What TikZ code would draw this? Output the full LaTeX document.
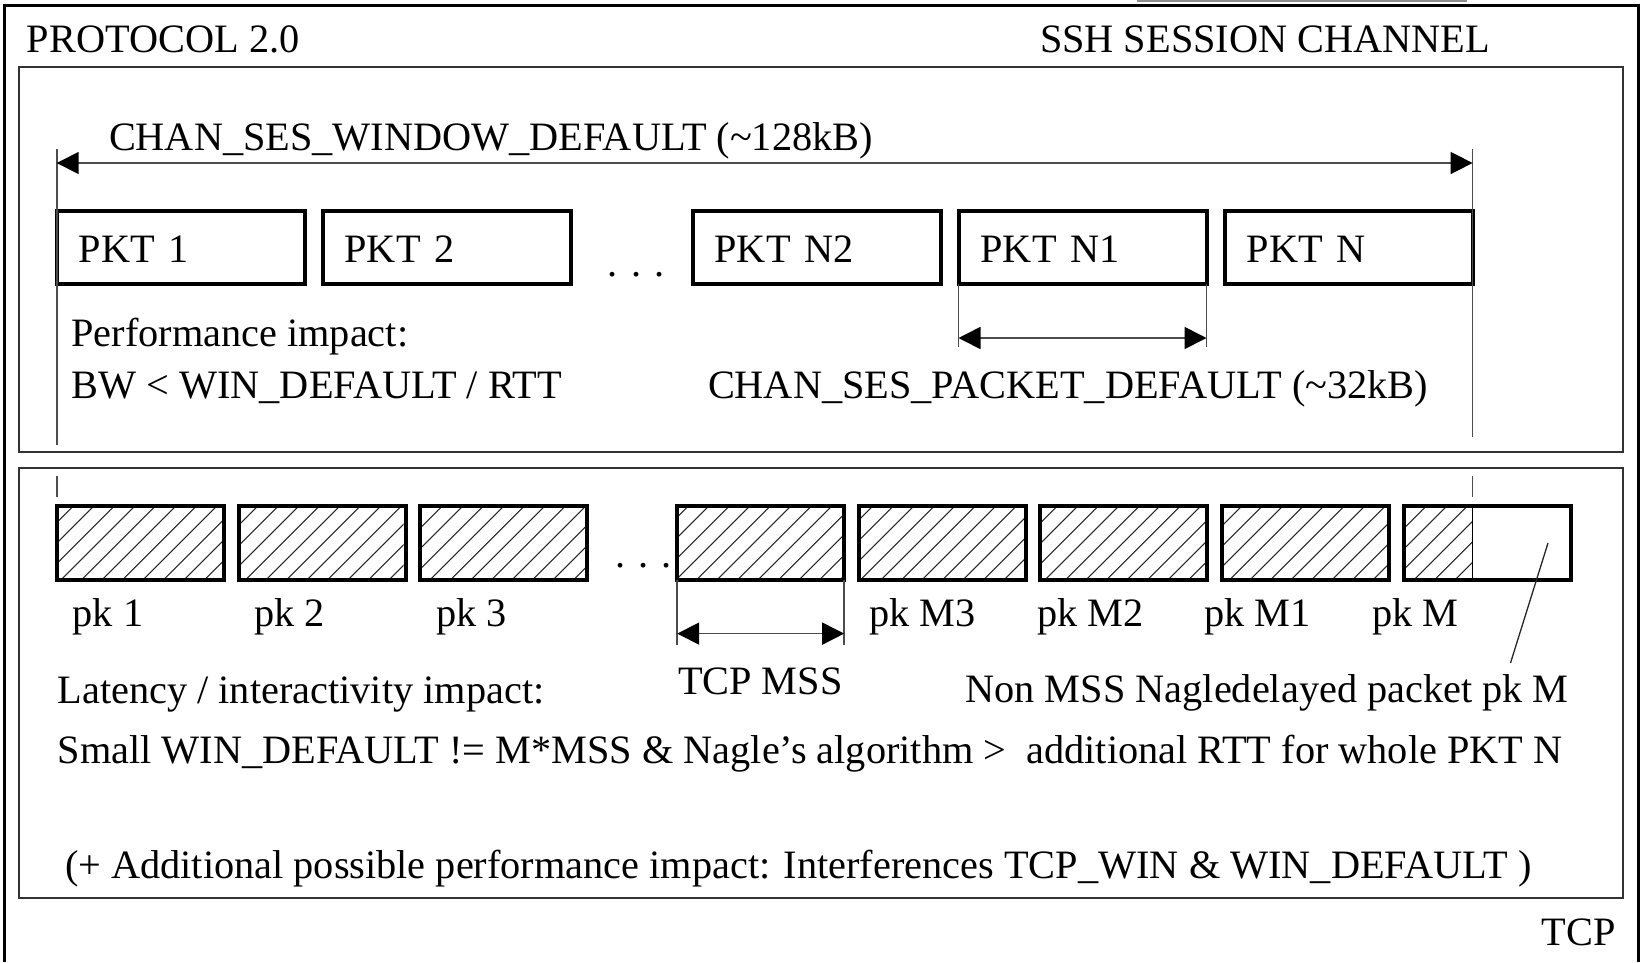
\documentclass[tikz,border=0pt]{standalone}
\usepackage{fontspec}
\setmainfont{Liberation Serif}
\usetikzlibrary{arrows.meta,calc}
\begin{document}
\begin{tikzpicture}[x=1pt,y=-1pt,
  every node/.style={inner sep=0pt,outer sep=0pt,font=\fontsize{40.3}{48.4}\selectfont},
  txt/.style={anchor=base west},
  pktbox/.style={draw,line width=4pt,minimum width=248pt,minimum height=73pt,text width=204pt,align=left,text height=31pt,text depth=0pt},
  pkbox/.style={draw,line width=4pt,minimum width=167pt,minimum height=74pt},
  frame/.style={draw=black!80,line width=2pt},
  outerframe/.style={draw=black,line width=2.8pt},
  ext/.style={draw=black!70,line width=1.6pt},
  dim/.style={ext,{Triangle[length=22pt,width=22pt,color=black]}-{Triangle[length=22pt,width=22pt,color=black]}},
  hatch/.style={draw=black!85,line width=1.1pt},
]
\useasboundingbox (0,0) rectangle (1642,962);

% frames
\draw[outerframe] (4.3,962) -- (4.3,5.5) -- (1638.5,5.5) -- (1638.5,962);
\draw[black!45,line width=2pt] (1137,0.5) -- (1467,0.5);
\draw[frame] (18.5,66.5) rectangle (1623.3,451.7);
\draw[frame] (18.5,468) rectangle (1623.3,898.3);

% header texts
\node[txt] (tproto) at (27,52) {PROTOCOL 2.0};
\node[txt] (tssh) at (1040,52) {SSH SESSION CHANNEL};

% SSH packets
\node[pktbox] (p1) at (180.7,247) {PKT 1};
\node[pktbox] (p2) at (446.5,247) {PKT 2};
\node[pktbox] (pn2) at (816.5,247) {PKT N2};
\node[pktbox] (pn1) at (1082.5,247) {PKT N1};
\node[pktbox] (pn) at (1348.6,247) {PKT N};
\node[txt] (dots1) at (607.7,276.6) {. . .};

% TCP packets
\node[pkbox] (k1) at (140.5,543) {};
\node[pkbox] (k2) at (322,543) {};
\node[pkbox] (k3) at (503.5,543) {};
\node[pkbox] (kmss) at (760.7,543) {};
\node[pkbox] (km3) at (942.4,543) {};
\node[pkbox] (km2) at (1123.5,543) {};
\node[pkbox] (km1) at (1305.5,543) {};
\node[pkbox] (km) at (1487.5,543) {};
\node[txt] (dots2) at (615,567.7) {. . .};

% hatching
\begin{scope}
\clip ($(k1.south west)+(2,-2)$) rectangle ($(k1.north east)+(-2,2)$)
      ($(k2.south west)+(2,-2)$) rectangle ($(k2.north east)+(-2,2)$)
      ($(k3.south west)+(2,-2)$) rectangle ($(k3.north east)+(-2,2)$)
      ($(kmss.south west)+(2,-2)$) rectangle ($(kmss.north east)+(-2,2)$)
      ($(km3.south west)+(2,-2)$) rectangle ($(km3.north east)+(-2,2)$)
      ($(km2.south west)+(2,-2)$) rectangle ($(km2.north east)+(-2,2)$)
      ($(km1.south west)+(2,-2)$) rectangle ($(km1.north east)+(-2,2)$)
      ($(km.south west)+(2,-2)$) rectangle ($(pn.east |- km.north)+(0,2)$);
\foreach \i in {-2,...,73} \draw[hatch] ({-10.7+20.5*\i},590) -- ++(100,-100);
\end{scope}
\draw[ext,draw=black,line width=1.3pt] (pn.east |- km.north) -- (pn.east |- km.south);

% window dimension
\coordinate (wy) at (0,163);
\coordinate (wtop) at (0,149);
\coordinate (wbotL) at (0,445);
\coordinate (wbotR) at (0,437);
\coordinate (tkT) at (0,476);
\coordinate (tkB) at (0,497);
\draw[ext] (p1.west |- wtop) -- (p1.west |- wbotL);
\draw[ext] (pn.east |- wtop) -- (pn.east |- wbotR);
\draw[dim] (p1.west |- wy) -- (pn.east |- wy);
\draw[ext] (p1.west |- tkT) -- (p1.west |- tkB);
\draw[ext] (pn.east |- tkT) -- (pn.east |- tkB);
\node[txt] (twin) at (109,150) {CHAN\_SES\_WINDOW\_DEFAULT (\textasciitilde128kB)};

% packet dimension
\draw[ext] (pn1.south west) -- ++(0,63.5);
\draw[ext] (pn1.south east) -- ++(0,63.5);
\draw[dim] ($(pn1.south west)+(0,54.5)$) -- ($(pn1.south east)+(0,54.5)$);
\node[txt] (tpkt) at (708,398.3) {CHAN\_SES\_PACKET\_DEFAULT (\textasciitilde32kB)};

\node[txt] (tperf) at (71.4,346) {Performance impact:};
\node[txt] (tbw) at (71.4,398.3) {BW < WIN\_DEFAULT / RTT};

% MSS dimension
\draw[ext] (kmss.south west) -- ++(0,65);
\draw[ext] (kmss.south east) -- ++(0,65);
\draw[dim] ($(kmss.south west)+(0,53.6)$) -- ($(kmss.south east)+(0,53.6)$);
\node[txt] (tmss) at (678,694) {TCP MSS};

% pk labels
\node[txt] (l1) at (72.7,626) {pk 1};
\node[txt] (l2) at (254.5,626) {pk 2};
\node[txt] (l3) at (436,626) {pk 3};
\node[txt] (lm3) at (869,626) {pk M3};
\node[txt] (lm2) at (1037,626) {pk M2};
\node[txt] (lm1) at (1204,626) {pk M1};
\node[txt] (lm) at (1372,626) {pk M};

% leader
\coordinate (ldA) at (1548,543);
\coordinate (ldB) at (1510.5,663);
\draw[ext,draw=black!85,line width=1.3pt] (ldA) -- (ldB);

\node[txt] (tlat) at (57.6,703) {Latency / interactivity impact:};
\node[txt] (tnon) at (965.5,702) {Non MSS Nagledelayed packet pk M};
\node[txt] (tsmall) at (57.6,763) {Small WIN\_DEFAULT != M*MSS \& Nagle’s algorithm > \ additional RTT for whole PKT N};
\node[txt] (tadd) at (65,878) {(+ Additional possible performance impact: Interferences TCP\_WIN \& WIN\_DEFAULT )};
\node[txt] (ttcp) at (1541.5,945) {TCP};
\end{tikzpicture}
\end{document}
